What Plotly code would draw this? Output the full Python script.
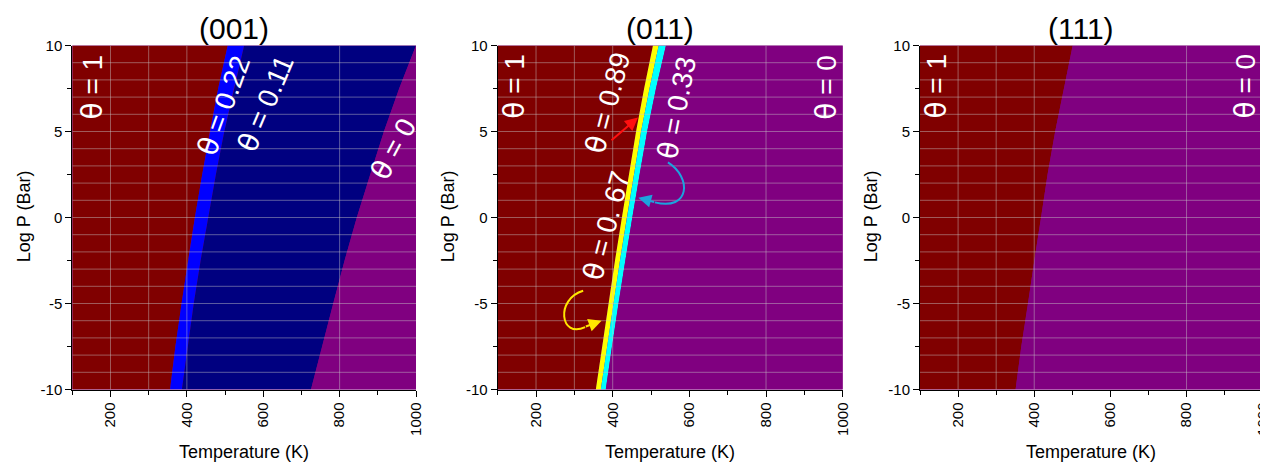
import plotly.graph_objects as go

# target picture size and the page's default body margin (plotly html page)
W, H = 1268, 464
OFF = 8
WF, HF = W - OFF, H - OFF

# ---------------- data ----------------
logP = [-10, -7.5, -5, -2.5, 0, 2.5, 5, 7.5, 10]

# (001) phase boundaries, temperature (K) at each logP
b001_1_022 = [356, 370, 386, 403, 421, 440, 460, 482, 507]
b001_022_011 = [387, 402, 418, 436, 455, 476, 498, 523, 550]
b001_011_0 = [725, 753, 783, 813, 845, 880, 916, 956, 1000]

# (011) phase boundaries
b011_1_067 = [356, 372, 389, 406, 424, 442, 461, 482, 505]
b011_067_033 = [369, 385, 402, 419, 437, 455, 474, 496, 520]
b011_033_0 = [382, 398, 415, 433, 451, 470, 490, 513, 539]

# (111) phase boundary
b111_1_0 = [351, 366, 384, 400, 418, 435, 455, 478, 501]

T_MIN, T_MAX = 100, 1000
P_MIN, P_MAX = -10, 10
x_ticks = [200, 400, 600, 800, 1000]
y_ticks = [-10, -5, 0, 5, 10]
hgrid_logP = list(range(-9, 11))
vgrid_T = [200, 300, 400, 800]
panel_titles = ["(001)", "(011)", "(111)"]

# colours
C_RED = "#800000"
C_PURPLE = "#800080"
C_NAVY = "#000080"
C_BLUE = "#0000FF"
C_YELLOW = "#FFFF00"
C_CYAN = "#00FFFF"

# ---------------- layout geometry (pixels in the picture) ----------------
panels_px = [(72.3, 416.0), (497.7, 842.7), (920.0, 1262.7)]
y_top_px, y_bot_px = 45.5, 389.5


def px_x(px):
    return (px - OFF) / WF


def px_y(py):
    return 1 - (py - OFF) / HF


fig = go.Figure()


def region(xl, xr, axis_suffix, color):
    """Polygon between two boundaries (lists of T) over logP."""
    xs = list(xl) + list(reversed(xr))
    ys = list(logP) + list(reversed(logP))
    fig.add_trace(go.Scatter(
        x=xs, y=ys, mode="lines", fill="toself", fillcolor=color,
        line=dict(width=0, color=color), hoverinfo="skip", showlegend=False,
        xaxis="x" + axis_suffix, yaxis="y" + axis_suffix))


left_edge = [T_MIN] * len(logP)
right_edge = [T_MAX] * len(logP)

# panel 1 (001)
region(left_edge, b001_1_022, "", C_RED)
region(b001_1_022, b001_022_011, "", C_BLUE)
region(b001_022_011, b001_011_0, "", C_NAVY)
region(b001_011_0, right_edge, "", C_PURPLE)
# panel 2 (011)
region(left_edge, b011_1_067, "2", C_RED)
region(b011_1_067, b011_067_033, "2", C_YELLOW)
region(b011_067_033, b011_033_0, "2", C_CYAN)
region(b011_033_0, right_edge, "2", C_PURPLE)
# panel 3 (111)
region(left_edge, b111_1_0, "3", C_RED)
region(b111_1_0, right_edge, "3", C_PURPLE)

font_family = "Liberation Sans, Arial, sans-serif"
layout = dict(
    width=WF, height=HF,
    margin=dict(l=0, r=0, t=0, b=0, autoexpand=False),
    paper_bgcolor="white", plot_bgcolor=C_PURPLE,
    font=dict(family=font_family, color="black"),
    showlegend=False,
)

shapes = []
annotations = []
suffixes = ["", "2", "3"]
for i, (sfx, (x0, x1)) in enumerate(zip(suffixes, panels_px)):
    xa = "xaxis" + sfx
    ya = "yaxis" + sfx
    layout[xa] = dict(
        domain=[px_x(x0), min(px_x(x1), 1.0)], range=[T_MIN, T_MAX], anchor="y" + sfx,
        tickvals=x_ticks, ticks="outside", ticklen=6, tickwidth=1, tickcolor="black",
        tickangle=-90, tickfont=dict(size=15, family=font_family), ticklabeloverflow="allow",
        minor=dict(dtick=100, tick0=100, ticks="outside", ticklen=4, tickcolor="black", showgrid=False),
        showgrid=False, zeroline=False, showline=True, linecolor="black", linewidth=1,
        fixedrange=True, automargin=False,
    )
    layout[ya] = dict(
        domain=[px_y(y_bot_px), px_y(y_top_px)], range=[P_MIN, P_MAX], anchor="x" + sfx,
        tickvals=y_ticks, ticktext=[str(v) for v in y_ticks],
        ticks="outside", ticklen=6, tickwidth=1, tickcolor="black",
        tickfont=dict(size=15, family=font_family), ticklabeloverflow="allow",
        minor=dict(dtick=2.5, tick0=0, ticks="outside", ticklen=4, tickcolor="black", showgrid=False),
        showgrid=False, zeroline=False, showline=True, linecolor="black", linewidth=1,
        fixedrange=True, automargin=False,
    )
    xr, yr = "x" + sfx, "y" + sfx
    for p in hgrid_logP:
        shapes.append(dict(type="line", xref=xr, yref=yr, x0=T_MIN, x1=T_MAX, y0=p, y1=p,
                           line=dict(color="rgba(200,200,200,0.45)", width=1), layer="above"))
    for t in vgrid_T:
        shapes.append(dict(type="line", xref=xr, yref=yr, x0=t, x1=t, y0=P_MIN, y1=P_MAX,
                           line=dict(color="rgba(200,200,200,0.45)", width=1), layer="above"))
    # panel title
    cx = (x0 + x1) / 2
    annotations.append(dict(text=panel_titles[i], xref="paper", yref="paper",
                            x=px_x(cx - 10), y=px_y(28), xanchor="center", yanchor="middle",
                            showarrow=False, font=dict(size=30, family=font_family)))
    # axis titles
    annotations.append(dict(text="Temperature (K)", xref="paper", yref="paper",
                            x=px_x(cx), y=px_y(452), xanchor="center", yanchor="middle",
                            showarrow=False, font=dict(size=18, family=font_family)))
    ytx = [23.5, 447.5, 870.5][i]
    annotations.append(dict(text="Log P (Bar)", xref="paper", yref="paper",
                            x=px_x(ytx), y=px_y(216.7), xanchor="center", yanchor="middle",
                            textangle=-90, showarrow=False, font=dict(size=18, family=font_family)))

# theta labels (panel, T, logP, text, angle)
theta_labels = [
    ("", 151.6, 7.56, "θ = 1", -90),
    ("", 497, 6.51, "θ = 0.22", -70),
    ("", 607, 6.63, "θ = 0.11", -67),
    ("", 942, 4.0, "θ = 0", -62),
    ("2", 145, 7.66, "θ = 1", -90),
    ("2", 388, 6.68, "θ = 0.89", -75),
    ("2", 568, 6.39, "θ = 0.33", -79),
    ("2", 383, -0.5, "θ = 0. 67", -75),
    ("2", 959, 7.6, "θ = 0", -90),
    ("3", 144.6, 7.67, "θ = 1", -90),
    ("3", 956, 7.67, "θ = 0", -90),
]
for sfx, t, p, txt, ang in theta_labels:
    styled = txt.replace("θ", "<span style='font-family:DejaVu Sans'>θ</span>")
    annotations.append(dict(text=styled, xref="x" + sfx, yref="y" + sfx, x=t, y=p,
                            xanchor="center", yanchor="middle", textangle=ang,
                            showarrow=False, font=dict(size=28, color="white", family=font_family)))

# arrows in panel (011)
C_ARW_RED = "#FF1010"
C_ARW_CYAN = "#1CA3DD"
C_ARW_YEL = "#FFE600"
# red straight arrow
annotations.append(dict(text="", xref="x2", yref="y2", axref="x2", ayref="y2",
                        x=466, y=5.81, ax=393, ay=4.42, showarrow=True,
                        arrowhead=2, arrowsize=1.3, arrowwidth=2, arrowcolor=C_ARW_RED))
# cyan curved arrow
shapes.append(dict(type="path", xref="x2", yref="y2",
                   path="M 544,3.2 C 607,2.33 602,0.36 510,0.88",
                   line=dict(color=C_ARW_CYAN, width=2), layer="above"))
annotations.append(dict(text="", xref="x2", yref="y2", axref="x2", ayref="y2",
                        x=466.8, y=1.15, ax=512, ay=0.88, showarrow=True,
                        arrowhead=2, arrowsize=1.3, arrowwidth=2, arrowcolor=C_ARW_CYAN))
# yellow curved arrow
shapes.append(dict(type="path", xref="x2", yref="y2",
                   path="M 323,-4.26 C 250,-4.74 262.5,-7.06 328,-6.37",
                   line=dict(color=C_ARW_YEL, width=2), layer="above"))
annotations.append(dict(text="", xref="x2", yref="y2", axref="x2", ayref="y2",
                        x=371, y=-6.0, ax=326, ay=-6.37, showarrow=True,
                        arrowhead=2, arrowsize=1.3, arrowwidth=2, arrowcolor=C_ARW_YEL))

layout["shapes"] = shapes
layout["annotations"] = annotations
fig.update_layout(**layout)

fig.write_html("out.html")
